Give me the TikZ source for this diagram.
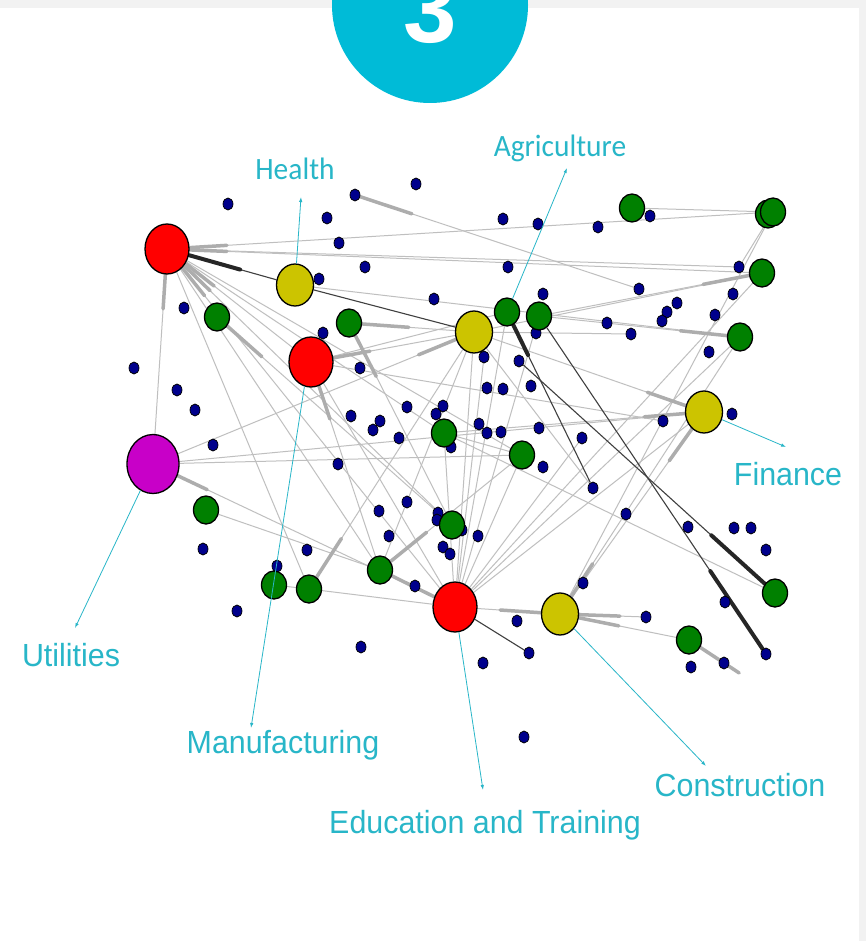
\documentclass[tikz,border=0pt]{standalone}
\usepackage{fontspec}
\setmainfont{Liberation Sans}
\newfontfamily\lblfont[FakeStretch=0.95]{Liberation Sans}
\newfontfamily\calfont[FakeStretch=0.95]{Carlito}
\usetikzlibrary{shapes.geometric,arrows.meta,calc,backgrounds}
\definecolor{badge}{RGB}{0,187,215}
\definecolor{tagcol}{RGB}{40,182,200}
\definecolor{hubred}{RGB}{255,0,0}
\definecolor{hubyel}{RGB}{204,196,0}
\definecolor{hubmag}{RGB}{200,0,200}
\definecolor{leafcol}{RGB}{0,128,0}
\definecolor{pincol}{RGB}{0,0,140}
\definecolor{framecol}{RGB}{242,242,242}
\begin{document}
\begin{tikzpicture}[x=1pt,y=-1pt]
		\tikzset{hub/.style = {shape=ellipse,draw=black,line width=1.3pt,inner sep=0pt,minimum width=44pt,minimum height=50pt}}
		\tikzset{red hub/.style = {hub,fill=hubred}}
		\tikzset{yel hub/.style = {hub,fill=hubyel,minimum width=37pt,minimum height=42pt}}
		\tikzset{mag hub/.style = {hub,fill=hubmag,minimum width=52pt,minimum height=59pt}}
		\tikzset{leaf/.style = {hub,fill=leafcol,minimum width=25pt,minimum height=28pt}}
		\tikzset{pin/.style = {shape=ellipse,draw=black,line width=0.7pt,fill=pincol,inner sep=0pt,minimum width=10pt,minimum height=12pt}}
		\tikzset{link/.style = {draw=black!25,line width=1pt}}
		\tikzset{fat/.style = {draw=black!32,line width=3.5pt,line cap=round}}
		\tikzset{dark/.style = {draw=black!75,line width=1.1pt}}
		\tikzset{darkfat/.style = {draw=black!85,line width=4pt,line cap=round}}
		\tikzset{callout/.style = {draw=tagcol,line width=0.8pt,-{Latex[length=5pt,width=3.5pt]}}}
		\tikzset{tagsans/.style = {text=tagcol,font=\lblfont\fontsize{32}{32}\selectfont,anchor=base,inner sep=0pt}}
		\tikzset{tagcal/.style = {text=tagcol,font=\calfont\fontsize{31}{31}\selectfont,anchor=base,inner sep=0pt}}
		\useasboundingbox (0,0) rectangle (866,941);
		\clip (0,0) rectangle (866,941);
		\node[circle,fill=badge,minimum size=196pt,inner sep=0pt] (badge) at (430,5) {};
		\node[text=white,font=\bfseries\fontsize{96}{96}\selectfont,anchor=base,inner sep=0pt] (num) at (430,43) {3};
		\foreach \x/\y [count=\i] in {228/204,355/195,416/184,327/218,339/243,503/219,538/224,598/227,650/216,365/267,
			508/267,319/279,434/299,543/294,639/289,739/267,733/294,677/303,667/312,662/321,
			715/315,607/323,631/334,709/352,536/333,484/357,519/361,487/388,503/389,531/386,
			443/406,436/414,479/424,487/433,501/432,539/428,582/438,663/421,732/414,451/447,
			543/467,593/488,626/514,688/527,734/528,751/528,766/550,438/513,437/520,462/530,
			478/536,443/547,450/554,583/583,725/602,517/621,646/617,529/653,483/663,766/654,
			724/663,691/667,184/308,134/368,177/390,195/410,323/333,360/368,407/407,351/416,
			380/421,373/430,399/438,213/445,338/464,407/502,379/511,389/536,203/549,307/550,
			277/566,237/611,415/586,361/647,524/737}
			\node[pin] (p\i) at (\x,\y) {};
		\node[red hub] (redA) at (167,249) {};
		\node[red hub] (redM) at (311,362) {};
		\node[red hub] (redE) at (455,607) {};
		\node[yel hub] (yelH) at (295,285) {};
		\node[yel hub] (yelX) at (474,332) {};
		\node[yel hub] (yelF) at (704,412) {};
		\node[yel hub] (yelK) at (560,614) {};
		\node[mag hub] (magU) at (153,464) {};
		\node[leaf] (g1) at (217,317) {};
		\node[leaf] (g2) at (349,323) {};
		\node[leaf] (g3) at (507,312) {};
		\node[leaf] (g4) at (539,316) {};
		\node[leaf] (g5) at (632,208) {};
		\node[leaf] (g6b) at (768,214) {};
		\node[leaf] (g6) at (773,212) {};
		\node[leaf] (g7) at (762,273) {};
		\node[leaf] (g8) at (740,337) {};
		\node[leaf] (g9) at (444,433) {};
		\node[leaf] (g10) at (522,455) {};
		\node[leaf] (g11) at (206,510) {};
		\node[leaf] (g12) at (452,525) {};
		\node[leaf] (g13) at (380,570) {};
		\node[leaf] (g14) at (274,585) {};
		\node[leaf] (g15) at (309,589) {};
		\node[leaf] (g16) at (689,640) {};
		\node[leaf] (g17) at (775,593) {};
		\begin{scope}[on background layer]
			\fill[white] (0,0) rectangle (866,941);
			\fill[framecol] (0,0) rectangle (866,8);
			\fill[framecol] (859,0) rectangle (866,941);
			\foreach \a/\b in {redA/g6,redA/g7,redA/magU,redA/g15,redA/g12,redA/redE,redA/g13,redA/redM,redA/g9,redA/g10,
				yelH/g8,g1/g12,g2/yelX,g2/g12,yelX/magU,redM/yelX,yelX/redE,g13/yelX,magU/yelF,magU/g10,
				magU/redE,g13/g10,g11/g13,g13/redE,g15/redE,g15/yelX,redM/g13,redM/redE,redM/g3,redE/g3,
				redE/g4,redE/yelF,redE/g8,redE/p37,redE/g10,redE/g9,redE/p26,yelK/redE,yelK/g16,g16/p61,
				yelK/p57,yelK/g8,yelF/yelK,yelF/g9,yelF/yelX,g8/g4,g7/g4,g5/g6,g6/yelK,p2/p15,
				redE/g7,g9/g10,g9/g17,g6/p16,g14/g15,yelX/p23,yelX/p42,redM/p38,redA/p16,yelX/g7}
				\path[link] (\a) edge (\b);
			\foreach \a/\b in {redA/g6,redA/g7,redA/magU,redA/g12,redA/redE,redA/redM,g1/g12,g2/yelX,g2/g12,yelX/magU,
				redM/yelX,magU/redE,g13/g10,g13/redE,g15/yelX,redM/g13,yelK/redE,yelK/g16,g16/p61,yelK/p57,
				yelK/g8,yelF/yelK,yelF/g9,yelF/yelX,g8/g4,g7/g4,p2/p15}
				\draw[fat] (\a) -- ($(\a)!60pt!(\b)$);
			\foreach \a/\b in {redA/yelH,yelH/yelX,g3/p42,g4/p60,p27/g17,redE/p58}
				\path[dark] (\a) edge (\b);
			\foreach \a/\b/\l in {redA/yelH/76pt,g3/p42/48pt,p60/g4/100pt,g17/p27/86pt}
				\draw[darkfat] (\a) -- ($(\a)!\l!(\b)$);
		\end{scope}
		\coordinate (hpt) at (301,197);
		\coordinate (apt) at (567,168);
		\coordinate (fpt) at (786,447);
		\coordinate (upt) at (75,628);
		\coordinate (mpt) at (251,728);
		\coordinate (ept) at (483,790);
		\coordinate (cpt) at (706,766);
		\draw[callout] (yelH) -- (hpt);
		\draw[callout] (g3) -- (apt);
		\draw[callout] (yelF) -- (fpt);
		\draw[callout] (magU) -- (upt);
		\draw[callout] (redM.255) -- (mpt);
		\draw[callout] (redE) -- (ept);
		\draw[callout] (yelK) -- (cpt);
		\node[tagcal] (health) at (295,180) {Health};
		\node[tagcal] (agri) at (560,157) {Agriculture};
		\node[tagsans] (finance) at (788,485) {Finance};
		\node[tagsans] (util) at (71,666) {Utilities};
		\node[tagsans] (manu) at (283,753) {Manufacturing};
		\node[tagsans] (edu) at (485,833) {Education and Training};
		\node[tagsans] (constr) at (740,796) {Construction};
	\end{tikzpicture}
\end{document}
